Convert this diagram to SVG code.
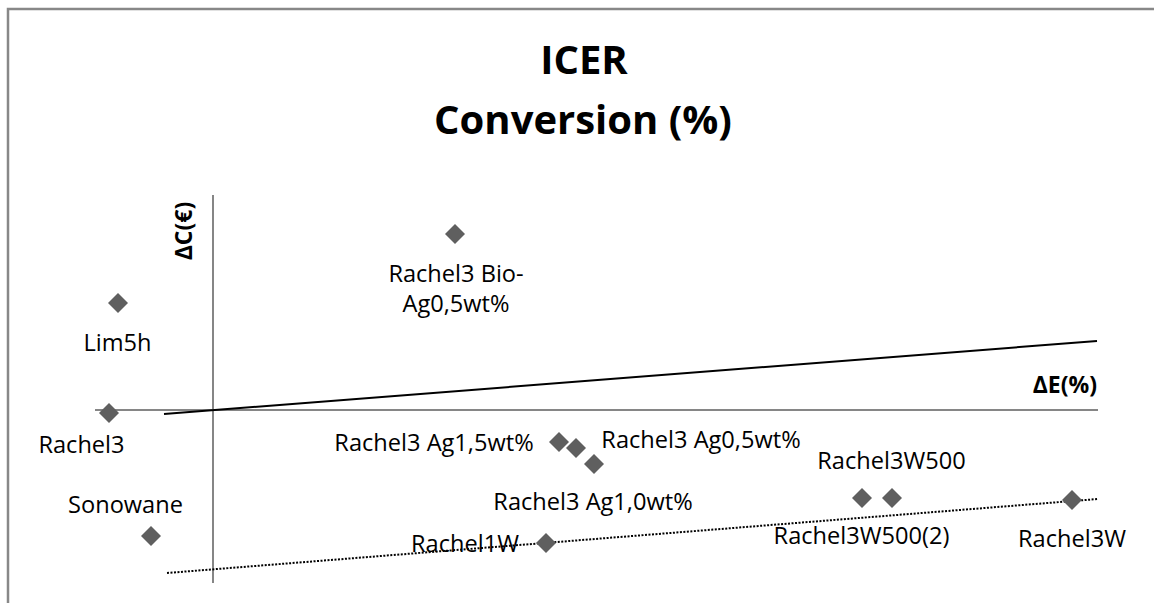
<svg xmlns="http://www.w3.org/2000/svg" width="1154" height="603" viewBox="0 0 1154 603">
<style>
.lbl{font-family:"Open Sans","Liberation Sans",sans-serif;font-size:23.6px;fill:#000;text-anchor:middle}
.ttl{font-family:"Open Sans","Liberation Sans",sans-serif;font-size:40px;font-weight:bold;fill:#000;text-anchor:middle}
.ax{font-family:"Open Sans","Liberation Sans",sans-serif;font-size:23px;font-weight:bold;fill:#000}
.axis{stroke:#868686;stroke-width:2;fill:none}
.pt{fill:#5f5f5f}
</style>
<defs>
<path id="d" d="M0,-10 L10,0 L0,10 L-10,0 Z"/>
</defs>
<rect x="0" y="0" width="1154" height="603" fill="#fff"/>
<path d="M8,603 L8,9 L1154,9" stroke="#888" stroke-width="2.5" fill="none"/>
<g id="title">
<text class="ttl" x="584" y="74">ICER</text>
<text class="ttl" x="583" y="134">Conversion (%)</text>
</g>
<g id="connectors">
<line class="axis" x1="213" y1="195" x2="213" y2="583"/>
<line class="axis" x1="95" y1="410" x2="1098" y2="410"/>
<line x1="164" y1="414" x2="1097" y2="341" stroke="#000" stroke-width="2"/>
<line x1="167" y1="573" x2="1098" y2="499" stroke="#000" stroke-width="2" stroke-dasharray="2 1.5"/>
</g>
<g id="axis-labels">
<text class="ax" x="1097" y="393" text-anchor="end">ΔE(%)</text>
<text class="ax" transform="translate(192,231) rotate(-90)" text-anchor="middle">ΔC(€)</text>
</g>
<g id="bio"><use href="#d" class="pt" x="455" y="234"/><text class="lbl" x="456" y="282">Rachel3 Bio-</text><text class="lbl" x="456" y="312">Ag0,5wt%</text></g>
<g id="lim5h"><use href="#d" class="pt" x="118" y="303"/><text class="lbl" x="117.5" y="351">Lim5h</text></g>
<g id="rachel3"><use href="#d" class="pt" x="109" y="413"/><text class="lbl" x="81.5" y="453">Rachel3</text></g>
<g id="sonowane"><use href="#d" class="pt" x="151" y="536"/><text class="lbl" x="125.5" y="513">Sonowane</text></g>
<g id="ag15"><use href="#d" class="pt" x="559" y="442"/><text class="lbl" x="434" y="451">Rachel3 Ag1,5wt%</text></g>
<g id="ag05"><use href="#d" class="pt" x="576" y="448"/><text class="lbl" x="701" y="448">Rachel3 Ag0,5wt%</text></g>
<g id="ag10"><use href="#d" class="pt" x="594" y="464"/><text class="lbl" x="593" y="510">Rachel3 Ag1,0wt%</text></g>
<g id="rachel1w"><use href="#d" class="pt" x="546" y="543"/><text class="lbl" x="465" y="552">Rachel1W</text></g>
<g id="w500"><use href="#d" class="pt" x="862" y="498"/><text class="lbl" x="891.5" y="469">Rachel3W500</text></g>
<g id="w500b"><use href="#d" class="pt" x="892" y="498"/><text class="lbl" x="861.5" y="544">Rachel3W500(2)</text></g>
<g id="rachel3w"><use href="#d" class="pt" x="1072" y="500"/><text class="lbl" x="1072" y="547">Rachel3W</text></g>
</svg>
